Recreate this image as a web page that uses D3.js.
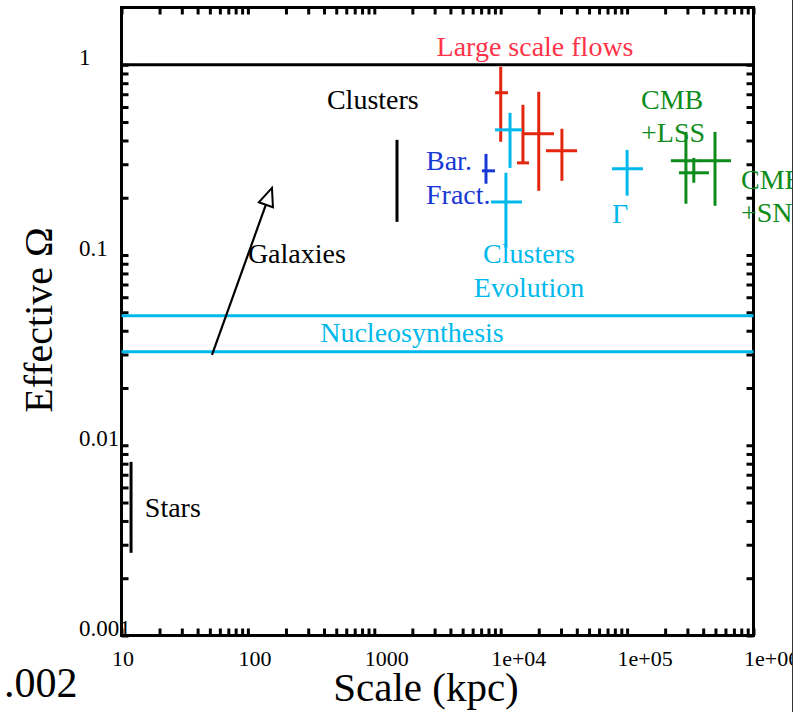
<!DOCTYPE html>
<html><head><meta charset="utf-8">
<script src="https://cdn.jsdelivr.net/npm/d3@7"></script>
<style>body{margin:0;background:#fff}svg{display:block}</style>
</head><body>
<svg id="c" width="803" height="712"></svg>
<script>
// ---- data ----
const xMajor = [10, 100, 1000, 1e4, 1e5, 1e6];
const xLabels = ["10", "100", "1000", "1e+04", "1e+05", "1e+06"];
const yMajor = [0.001, 0.01, 0.1, 1];
const yLabels = ["0.001", "0.01", "0.1", "1"];

// Large scale flows (red)
const flowsX   = [1e4, 1.5e4, 2.0e4, 3.05e4];
const flowsY   = [0.713, 0.305, 0.434, 0.353];
const flowsYLo = [0.394, 0.305, 0.2175, 0.2455];
const flowsYHi = [0.976, 0.616, 0.721, 0.461];
const flowsXLo = [9020, 13460, 15000, 22800];
const flowsXHi = [11420, 16750, 26400, 40200];

// Clusters / Clusters evolution / Gamma (cyan)
const cyanX   = [11850, 11000, 1e5];
const cyanY   = [0.455, 0.19, 0.284];
const cyanYLo = [0.287, 0.109, 0.205];
const cyanYHi = [0.559, 0.2705, 0.357];
const cyanXLo = [9020, 8380, 75900];
const cyanXHi = [14750, 14730, 133600];

// Baryon fraction (blue)
const barX = [7650], barY = [0.277], barYLo = [0.237], barYHi = [0.340], barXLo = [7110], barXHi = [9020];

// CMB (green)
const cmbX   = [292000, 337000, 496000];
const cmbY   = [0.313, 0.2705, 0.313];
const cmbYLo = [0.186, 0.2398, 0.1815];
const cmbYHi = [0.444, 0.324, 0.444];
const cmbXLo = [222000, 257000, 378000];
const cmbXHi = [385000, 444000, 664000];

// ranges (black)
const clustersRange = {x: 1512, lo: 0.1494, hi: 0.403};
const starsRange = {x: 11.9, lo: 0.00272, hi: 0.00818};
const galaxiesArrow = {x0: 52, y0: 0.0299, x1: 155, y1: 0.2255};
const omegaOne = 1;
const nucleoLevels = [0.0479, 0.031];

// annotations [text, x, y, anchor, colour key]
const notes = [
  ["Large scale flows", 18700, 1.115, "middle", "redText"],
  ["Clusters", 422, 0.587, "start", "black"],
  ["Bar.", 2565, 0.2805, "start", "blue"],
  ["Fract.", 2565, 0.186, "start", "blue"],
  ["Clusters", 16750, 0.091, "middle", "cyan"],
  ["Evolution", 16750, 0.0603, "middle", "cyan"],
  ["Nucleosynthesis", 1987, 0.035, "middle", "cyan"],
  ["Galaxies", 100, 0.091, "start", "black"],
  ["Stars", 15.3, 0.0042, "start", "black"],
  ["Γ", 75900, 0.1477, "start", "cyan"],
  ["CMB", 128800, 0.587, "start", "green"],
  ["+LSS", 128800, 0.394, "start", "green"],
  ["CMB", 796000, 0.223, "start", "green"],
  ["+SN", 796000, 0.1494, "start", "green"]
];

const colors = {red: "#e4260f", redText: "#ff3348", cyan: "#00b9ec", blue: "#1838d6", green: "#0e8c1a", black: "#000"};
const FONT = "Liberation Serif";

// ---- drawing ----
const svg = d3.select("#c").attr("font-family", FONT);
const L = 121.5, R = 753.5, T = 7.5, B = 635.5;
const x = d3.scaleLog().domain([10, 1e6]).range([L, R]);
const y = d3.scaleLog().domain([0.001, 2]).range([B, T]);

svg.append("rect").attr("width", 803).attr("height", 712).attr("fill", "#fff");
svg.append("clipPath").attr("id", "clip").append("rect").attr("x", 0).attr("y", 0).attr("width", 792).attr("height", 712);
const g = svg.append("g").attr("clip-path", "url(#clip)");

// frame
g.append("rect").attr("x", L).attr("y", T).attr("width", R - L).attr("height", B - T)
  .attr("fill", "none").attr("stroke", "#000").attr("stroke-width", 3);

const near = (a, b) => Math.abs(a - b) / b < 1e-6;
const xfmt = d => { const i = xMajor.findIndex(v => near(d, v)); return i >= 0 ? xLabels[i] : ""; };
const yfmt = d => { const i = yMajor.findIndex(v => near(d, v)); return i >= 0 ? yLabels[i] : ""; };
const xt = x.ticks(), yt = y.ticks().filter(v => v < 1.9);

function styleAxis(sel) {
  sel.attr("font-family", FONT);
  sel.select(".domain").remove();
  sel.selectAll(".tick line").attr("stroke", "#000").attr("stroke-width", 3);
}
// bottom
const ab = g.append("g").attr("transform", `translate(0,${B})`)
  .call(d3.axisBottom(x).tickValues(xt).tickFormat(xfmt).tickSizeInner(-7).tickSizeOuter(0));
styleAxis(ab);
ab.selectAll(".tick text").attr("y", 30.5).attr("dy", 0).attr("x", -10).attr("text-anchor", "start")
  .attr("font-size", 22).attr("fill", "#000").attr("font-family", FONT);
// top
const at = g.append("g").attr("transform", `translate(0,${T})`)
  .call(d3.axisTop(x).tickValues(xt).tickFormat("").tickSizeInner(-7).tickSizeOuter(0));
styleAxis(at);
// left
const al = g.append("g").attr("transform", `translate(${L},0)`)
  .call(d3.axisLeft(y).tickValues(yt).tickFormat(yfmt).tickSizeInner(-7).tickSizeOuter(0));
styleAxis(al);
al.selectAll(".tick text").attr("x", 79 - L).attr("dy", 0).attr("text-anchor", "start")
  .attr("font-size", 23).attr("fill", "#000").attr("font-family", FONT);
// right
const ar = g.append("g").attr("transform", `translate(${R},0)`)
  .call(d3.axisRight(y).tickValues(yt).tickFormat("").tickSizeInner(-7).tickSizeOuter(0));
styleAxis(ar);

// Omega = 1 line
g.append("line").attr("x1", L).attr("x2", R).attr("y1", y(omegaOne)).attr("y2", y(omegaOne))
  .attr("stroke", "#000").attr("stroke-width", 3);
// Nucleosynthesis band
g.selectAll(".nuc").data(nucleoLevels).join("line")
  .attr("x1", L).attr("x2", R).attr("y1", d => y(d)).attr("y2", d => y(d))
  .attr("stroke", colors.cyan).attr("stroke-width", 3);

// error bars
function errbars(X, Y, YLo, YHi, XLo, XHi, col) {
  const d = X.map((v, i) => ({x: v, y: Y[i], ylo: YLo[i], yhi: YHi[i], xlo: XLo[i], xhi: XHi[i]}));
  const gg = g.append("g").attr("stroke", col).attr("stroke-width", 3);
  gg.selectAll(".v").data(d).join("line")
    .attr("x1", e => x(e.x)).attr("x2", e => x(e.x)).attr("y1", e => y(e.ylo)).attr("y2", e => y(e.yhi));
  gg.selectAll(".h").data(d).join("line")
    .attr("x1", e => x(e.xlo)).attr("x2", e => x(e.xhi)).attr("y1", e => y(e.y)).attr("y2", e => y(e.y));
}
errbars(flowsX, flowsY, flowsYLo, flowsYHi, flowsXLo, flowsXHi, colors.red);
errbars(cyanX, cyanY, cyanYLo, cyanYHi, cyanXLo, cyanXHi, colors.cyan);
errbars(barX, barY, barYLo, barYHi, barXLo, barXHi, colors.blue);
errbars(cmbX, cmbY, cmbYLo, cmbYHi, cmbXLo, cmbXHi, colors.green);

// range bars
[clustersRange, starsRange].forEach(r => {
  g.append("line").attr("x1", x(r.x)).attr("x2", x(r.x)).attr("y1", y(r.lo)).attr("y2", y(r.hi))
    .attr("stroke", "#000").attr("stroke-width", 3);
});

// galaxies arrow
{
  const a = galaxiesArrow;
  const px0 = x(a.x0), py0 = y(a.y0), px1 = x(a.x1), py1 = y(a.y1);
  const dx = px1 - px0, dy = py1 - py0, len = Math.hypot(dx, dy);
  const ux = dx / len, uy = dy / len, hl = 18, hw = 7.5;
  const bx = px1 - ux * hl, by = py1 - uy * hl;
  g.append("line").attr("x1", px0).attr("y1", py0).attr("x2", bx + ux * 3).attr("y2", by + uy * 3)
    .attr("stroke", "#000").attr("stroke-width", 2.2);
  g.append("path")
    .attr("d", `M${px1},${py1}L${bx - uy * hw},${by + ux * hw}L${bx + uy * hw},${by - ux * hw}Z`)
    .attr("fill", "#fff").attr("stroke", "#000").attr("stroke-width", 2);
}

// annotations
g.selectAll(".note").data(notes).join("text")
  .attr("x", d => x(d[1])).attr("y", d => y(d[2])).attr("text-anchor", d => d[3])
  .attr("fill", d => colors[d[4]]).attr("font-size", 28).attr("font-family", FONT).text(d => d[0]);

// axis titles
g.append("text").attr("x", 426).attr("y", 701).attr("text-anchor", "middle").attr("font-family", FONT)
  .attr("font-size", 41).attr("fill", "#000").text("Scale (kpc)");
g.append("text").attr("transform", "translate(52,320) rotate(-90)").attr("text-anchor", "middle").attr("font-family", FONT)
  .attr("font-size", 40).attr("fill", "#000").text("Effective Ω");
g.append("text").attr("x", 4).attr("y", 697).attr("font-size", 42).attr("font-family", FONT).attr("fill", "#000").text(".002");

// right-hand page edge
svg.append("line").attr("x1", 792.5).attr("x2", 792.5).attr("y1", 0).attr("y2", 712)
  .attr("stroke", "#333").attr("stroke-width", 1);
</script>
</body></html>
